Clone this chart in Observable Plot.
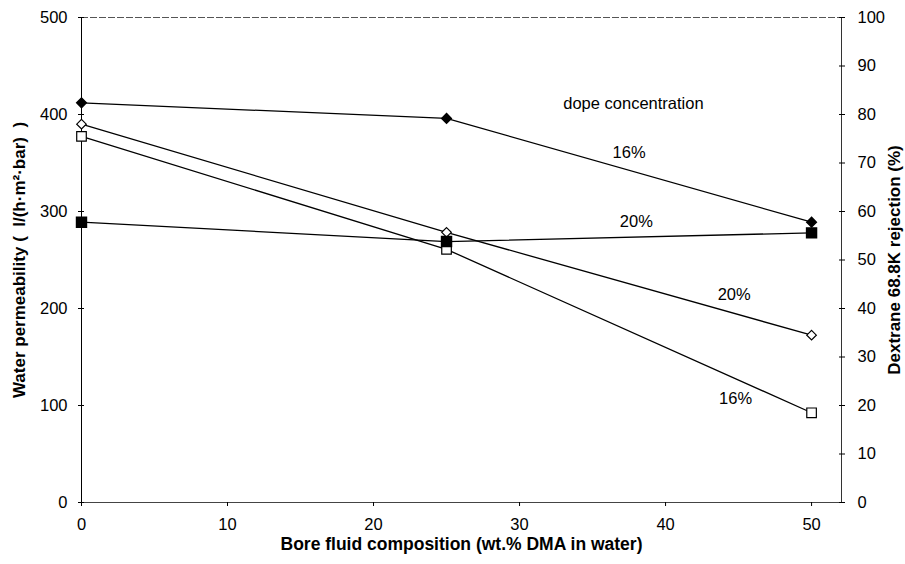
<!DOCTYPE html>
<html>
<head>
<meta charset="utf-8">
<script src="https://cdn.jsdelivr.net/npm/d3@7"></script>
<script src="https://cdn.jsdelivr.net/npm/@observablehq/plot@0.6"></script>
<style>
  html, body { margin: 0; padding: 0; background: #fff; }
  #chart svg { display: block; }
</style>
</head>
<body>
<div id="chart"></div>
<script>
// Bore fluid composition (wt.% DMA in water)
const boreFluid = [0, 25, 50];

// Water permeability, l/(h·m²·bar), left axis
const permeability16 = [412, 396, 289];
const permeability20 = [289, 269, 278];

// Dextrane 68.8K rejection (%), right axis
const rejection20 = [78, 55.7, 34.5];
const rejection16 = [75.5, 52.2, 18.5];

// Axis ticks
const xTicks = [0, 10, 20, 30, 40, 50];
const leftTicks = [0, 100, 200, 300, 400, 500];
const rightTicks = [0, 10, 20, 30, 40, 50, 60, 70, 80, 90, 100];

// Annotations (data units of the permeability scale)
const annotations = [
  {x: 37.8, y: 410.6, text: "dope concentration"},
  {x: 37.5, y: 361, text: "16%"},
  {x: 38.0, y: 289, text: "20%"},
  {x: 44.7, y: 214, text: "20%"},
  {x: 44.8, y: 106.6, text: "16%"}
];

const xMax = 52.05;
const rejectionToPermeability = 5; // 100 % on the right axis = 500 on the left

const rows = (values, key, scale = 1) =>
  values.map((v, i) => ({x: boreFluid[i], y: v * scale, series: key}));

const sFilledDiamond = rows(permeability16, "perm16");
const sFilledSquare = rows(permeability20, "perm20");
const sOpenDiamond = rows(rejection20, "rej20", rejectionToPermeability);
const sOpenSquare = rows(rejection16, "rej16", rejectionToPermeability);

const rightTicksScaled = rightTicks.map(v => v * rejectionToPermeability);
const noText = () => "";

const lineStyle = {x: "x", y: "y", stroke: "black", strokeWidth: 1.3};
const tickFont = 16.5;
const titleFont = 17;

const chart = Plot.plot({
  width: 905,
  height: 564,
  marginLeft: 81,
  marginRight: 64,
  marginTop: 17,
  marginBottom: 62,
  x: {domain: [0, xMax]},
  y: {domain: [0, 500]},
  style: {
    fontFamily: "'Liberation Sans', Arial, sans-serif",
    fontSize: "16px",
    background: "white",
    color: "black"
  },
  marks: [
    // frame
    Plot.ruleY([500], {stroke: "#555", strokeDasharray: "7,2"}),
    Plot.ruleY([0], {stroke: "#444"}),
    Plot.ruleX([0], {stroke: "black"}),
    Plot.ruleX([xMax], {stroke: "#333"}),

    // x axis
    Plot.axisX(xTicks, {anchor: "bottom", tickSize: 4, tickPadding: 12, fontSize: tickFont, label: null}),

    // left axis: permeability (ticks cross the axis line)
    Plot.axisY(leftTicks, {anchor: "left", tickSize: 6, dx: 3, tickFormat: noText, label: null}),
    Plot.axisY(leftTicks, {anchor: "left", tickSize: 0, tickPadding: 14, fontSize: tickFont, label: null}),

    // right axis: rejection
    Plot.axisY(rightTicksScaled, {anchor: "right", tickSize: 6, dx: -3, tickFormat: noText, label: null}),
    Plot.axisY(rightTicksScaled, {
      anchor: "right", tickSize: 0, tickPadding: 16, fontSize: tickFont, label: null,
      tickFormat: d => d / rejectionToPermeability
    }),

    // series lines
    Plot.line(sFilledDiamond, lineStyle),
    Plot.line(sFilledSquare, lineStyle),
    Plot.line(sOpenDiamond, lineStyle),
    Plot.line(sOpenSquare, lineStyle),

    // markers
    Plot.dot(sOpenSquare, {x: "x", y: "y", symbol: "square", r: 5.4, fill: "white", stroke: "black", strokeWidth: 1.2}),
    Plot.dot(sOpenDiamond, {x: "x", y: "y", symbol: "diamond2", r: 4.3, fill: "white", stroke: "black", strokeWidth: 1.2}),
    Plot.dot(sFilledSquare, {x: "x", y: "y", symbol: "square", r: 5.6, fill: "black", stroke: "black"}),
    Plot.dot(sFilledDiamond, {x: "x", y: "y", symbol: "diamond2", r: 4.3, fill: "black", stroke: "black"}),

    // annotations
    Plot.text(annotations, {x: "x", y: "y", text: "text", fontSize: tickFont}),

    // axis titles
    Plot.text(["Water permeability (\u00a0\u00a0l/(h·m²·bar)\u00a0\u00a0)"], {
      frameAnchor: "left", textAnchor: "middle", rotate: -90, dx: -62,
      fontWeight: "bold", fontSize: titleFont
    }),
    Plot.text(["Dextrane 68.8K rejection (%)"], {
      frameAnchor: "right", textAnchor: "middle", rotate: -90, dx: 53,
      fontWeight: "bold", fontSize: titleFont
    }),
    Plot.text(["Bore fluid composition (wt.% DMA in water)"], {
      frameAnchor: "bottom", textAnchor: "middle", dy: 47,
      fontWeight: "bold", fontSize: 17.5
    })
  ]
});

document.getElementById("chart").appendChild(chart);
</script>
</body>
</html>
